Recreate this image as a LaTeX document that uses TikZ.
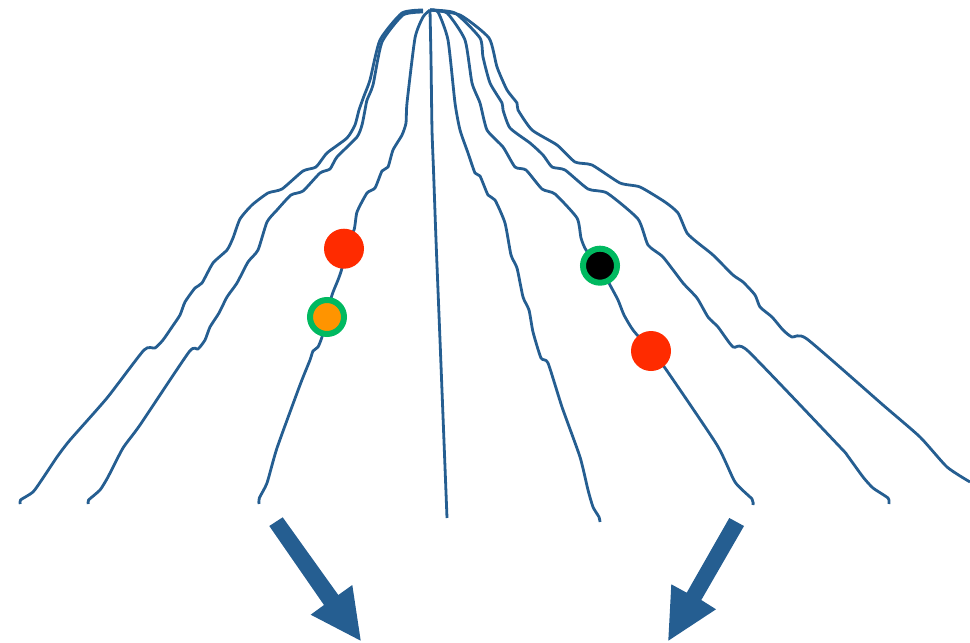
\documentclass[tikz,border=0pt]{standalone}
\definecolor{trackblue}{HTML}{255E91}
\definecolor{hitred}{HTML}{FF2B00}
\definecolor{ringgreen}{HTML}{00B960}
\definecolor{coreorange}{HTML}{FF9400}
\tikzset{
  track/.style={draw=trackblue,line width=2.1pt,line join=round,smooth,tension=0.35},
  dot/.style={circle,draw=none,inner sep=0pt,minimum size=30pt,fill=hitred},
  ringed/.style={circle,inner sep=0pt,minimum size=25.5pt,draw=ringgreen,line width=4.5pt},
  bigarrow/.style={fill=trackblue,draw=none}
}
\begin{document}
\begin{tikzpicture}[x=0.75pt,y=-0.75pt]
\useasboundingbox (0,0) rectangle (970,642);
% left fan of tracks
\draw[track] plot coordinates {(20.3,504)(20.5,500)(33,492)(43,478)(57,457)(70,440)(107,398)(144,350)(155,348)(163,340)(172,327)(180,315)(185,302)(195,288)(202,283)(213,263)(227,250)(233,238)(240,219)(252,205)(268,193)(282,189)(303,171)(316,167)(327,153)(347,138)(355,125)(359,110)(364,96)(370,80)(380,40)(402,13)(423,10)};
\draw[track] plot coordinates {(88.3,504)(88.6,500)(100,490)(108,477)(123,448)(140,425)(189,352)(198,349)(205,340)(210,327)(219,313)(227,297)(237,283)(248,262)(258,250)(267,222)(277,210)(291,195)(303,191)(320,173)(330,169)(337,157)(357,137)(362,125)(365,110)(367,100)(373,85)(382,42)(403,15)(423,12)};
\draw[track] plot coordinates {(259,504)(259.3,498)(267,483)(277,448)(300,385)(310,360)(313,351)(318,347)(322,337)(327,317)(332,295)(338,280)(342,268)(344,248)(354,230)(357,212)(367,193)(375,188)(382,171)(388,167)(393,150)(402,135)(406,123)(407,103)(415,38)(423,17)(430,10)};
% central track
\draw[track] plot coordinates {(430,10)(431,60)(432,130)(433.5,170)(436,240)(440,340)(447,518)};
% right fan of tracks
\draw[track] plot coordinates {(430,10)(438,12)(448,40)(455,103)(460,130)(468,153)(475,173)(480,176)(488,195)(495,200)(505,223)(511,255)(517,268)(523,297)(529,310)(533,332)(541,358)(548,363)(562,407)(580,457)(588,490)(593,507)(599,517)(600,522)};
\draw[track] plot coordinates {(430,10)(447,13)(465,40)(472,83)(480,103)(487,130)(503,147)(515,167)(526,170)(542,189)(555,194)(577,218)(581,238)(586,250)(600,266)(610,285)(618,300)(624,315)(633,330)(651,351)(665,368)(717,445)(735,482)(752,499)(753,505)};
\draw[track] plot coordinates {(430,10)(455,13)(480,38)(483,57)(490,83)(502,103)(503,110)(510,128)(530,143)(543,155)(552,167)(565,170)(588,189)(607,193)(638,219)(648,245)(663,257)(683,283)(697,298)(708,317)(718,327)(733,347)(748,351)(840,447)(847,455)(863,477)(873,488)(888,498)(889,504)};
\draw[track] plot coordinates {(430,10)(460,15)(489,38)(497,67)(507,90)(517,103)(518,110)(532,130)(557,145)(575,162)(592,165)(620,183)(640,187)(665,202)(678,213)(687,233)(698,243)(713,255)(733,275)(743,282)(755,295)(760,307)(772,317)(783,330)(792,337)(807,339)(883,405)(920,437)(947,467)(970,482)};
% markers on the tracks
\node[dot] (hitleft) at (344,248.7) {};
\node[dot] (hitright) at (651,351) {};
\node[ringed,fill=coreorange] (coreleft) at (327,317) {};
\node[ringed,fill=black] (coreright) at (600,265.7) {};
% direction arrows
\fill[bigarrow] (269.3,526)--(282.7,517.3)--(338.3,595)--(352.3,585)--(360.7,640.7)--(310.7,614.7)--(324,605)--cycle;
\fill[bigarrow] (729.3,518)--(744,526)--(701.3,600)--(716,609.3)--(668.3,640.7)--(671.3,584.3)--(686.7,592.7)--cycle;
\end{tikzpicture}
\end{document}
